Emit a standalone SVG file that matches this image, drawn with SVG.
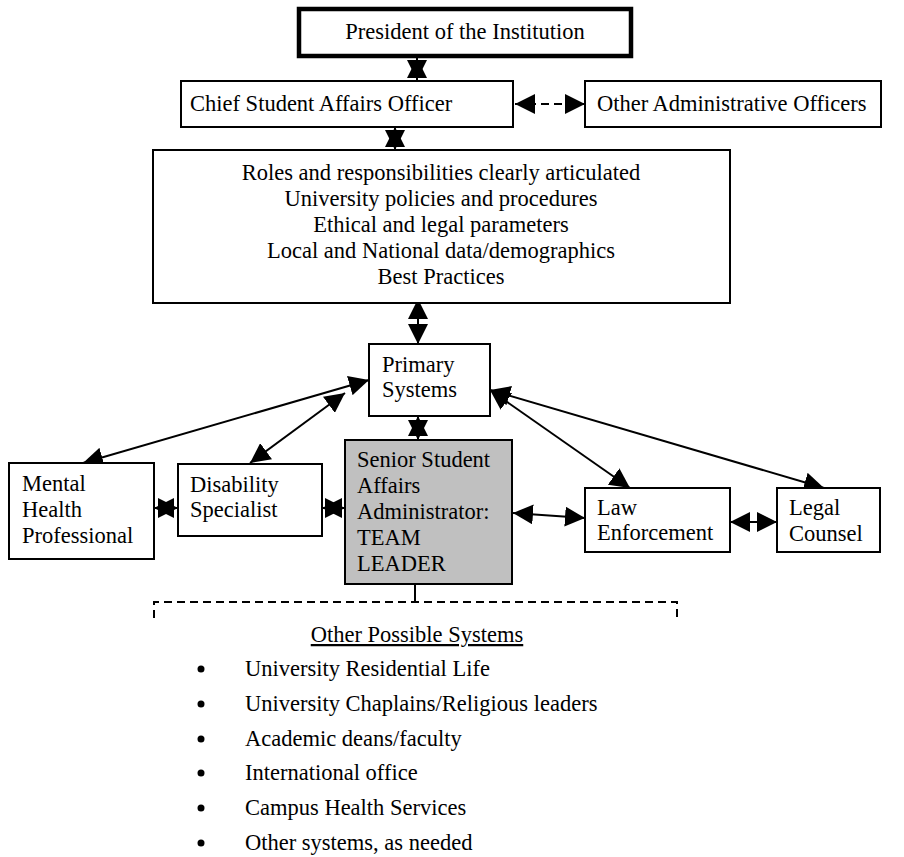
<svg xmlns="http://www.w3.org/2000/svg" width="904" height="857" viewBox="0 0 904 857">
<style>
text{font-family:"Liberation Serif","Times New Roman",serif;font-size:22.5px;fill:#000}
.box{fill:#fff;stroke:#000;stroke-width:2}
.gray{fill:#c0c0c0;stroke:#000;stroke-width:2}
.c{text-anchor:middle}
.ln{stroke:#000;stroke-width:2;fill:none;marker-start:url(#ah);marker-end:url(#ah)}
.dash{stroke:#000;stroke-width:2;fill:none;stroke-dasharray:8,5}
</style>
<defs>
<marker id="ah" viewBox="0 0 20 20" refX="20" refY="10" markerWidth="20" markerHeight="20" markerUnits="userSpaceOnUse" orient="auto-start-reverse">
<path d="M0,0 L20,10 L0,20 z" fill="#000"/>
</marker>
</defs>
<rect width="904" height="857" fill="#fff"/>
<g id="connectors">
<line class="ln" x1="417" y1="58" x2="417" y2="80"/>
<line class="ln" x1="515" y1="104" x2="585" y2="104" style="stroke-dasharray:8,5"/>
<line class="ln" x1="395" y1="127" x2="395" y2="150"/>
<line class="ln" x1="418" y1="299" x2="418" y2="344"/>
<line class="ln" x1="418" y1="416" x2="418" y2="440"/>
<line class="ln" x1="369" y1="380" x2="83" y2="463"/>
<line class="ln" x1="345" y1="393" x2="250" y2="463"/>
<line class="ln" x1="490" y1="390" x2="630" y2="488"/>
<line class="ln" x1="490" y1="390" x2="824" y2="488"/>
<line class="ln" x1="154" y1="508" x2="178" y2="508"/>
<line class="ln" x1="322" y1="508" x2="345" y2="508"/>
<line class="ln" x1="513" y1="513" x2="585" y2="518"/>
<line class="ln" x1="730" y1="522" x2="777" y2="522"/>
<line x1="415" y1="584" x2="415" y2="602" stroke="#000" stroke-width="2"/>
<path class="dash" d="M154,618 V602 H677 V618"/>
</g>
<g id="president">
<rect x="299" y="9" width="332" height="47" fill="#fff" stroke="#000" stroke-width="4.5"/>
<text x="465" y="39" class="c">President of the Institution</text>
</g>
<g id="csao">
<rect class="box" x="181" y="81" width="332" height="46"/>
<text x="190" y="111">Chief Student Affairs Officer</text>
</g>
<g id="other-admin">
<rect class="box" x="585" y="81" width="296" height="46"/>
<text x="597" y="111">Other Administrative Officers</text>
</g>
<g id="roles">
<rect class="box" x="153" y="150" width="577" height="153"/>
<text x="441" y="180" class="c">Roles and responsibilities clearly articulated</text>
<text x="441" y="206" class="c">University policies and procedures</text>
<text x="441" y="232" class="c">Ethical and legal parameters</text>
<text x="441" y="258" class="c">Local and National data/demographics</text>
<text x="441" y="284" class="c">Best Practices</text>
</g>
<g id="primary">
<rect class="box" x="369" y="344" width="121" height="72"/>
<text x="382" y="372">Primary</text>
<text x="382" y="397">Systems</text>
</g>
<g id="mental">
<rect class="box" x="9" y="463" width="145" height="96"/>
<text x="22" y="491">Mental</text>
<text x="22" y="517">Health</text>
<text x="22" y="543">Professional</text>
</g>
<g id="disability">
<rect class="box" x="178" y="464" width="144" height="72"/>
<text x="190" y="492">Disability</text>
<text x="190" y="517">Specialist</text>
</g>
<g id="senior">
<rect class="gray" x="345" y="440" width="167" height="144"/>
<text x="357" y="467">Senior Student</text>
<text x="357" y="493">Affairs</text>
<text x="357" y="519">Administrator:</text>
<text x="357" y="545">TEAM</text>
<text x="357" y="571">LEADER</text>
</g>
<g id="law">
<rect class="box" x="585" y="488" width="145" height="64"/>
<text x="597" y="515">Law</text>
<text x="597" y="540">Enforcement</text>
</g>
<g id="legal">
<rect class="box" x="777" y="488" width="103" height="64"/>
<text x="789" y="515">Legal</text>
<text x="789" y="541">Counsel</text>
</g>
<g id="other-systems">
<text x="417" y="642" class="c" text-decoration="underline">Other Possible Systems</text>
<circle cx="201" cy="669" r="3.5"/>
<text x="245" y="676">University Residential Life</text>
<circle cx="201" cy="704" r="3.5"/>
<text x="245" y="711">University Chaplains/Religious leaders</text>
<circle cx="201" cy="739" r="3.5"/>
<text x="245" y="746">Academic deans/faculty</text>
<circle cx="201" cy="773" r="3.5"/>
<text x="245" y="780">International office</text>
<circle cx="201" cy="808" r="3.5"/>
<text x="245" y="815">Campus Health Services</text>
<circle cx="201" cy="843" r="3.5"/>
<text x="245" y="850">Other systems, as needed</text>
</g>
</svg>
